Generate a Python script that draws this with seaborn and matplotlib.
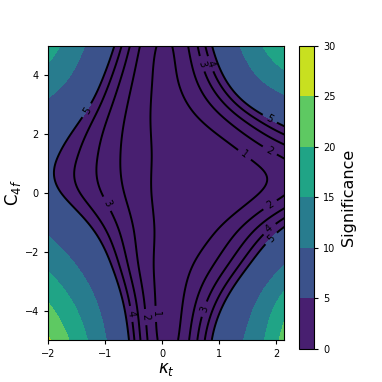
import numpy as np
import pandas as pd
import matplotlib
matplotlib.use("Agg")
import matplotlib.pyplot as plt
import seaborn as sns

# Contour readings from the reference: (kappa_t, C_4f) on each significance level
lvl5_kt = [-0.82, -1.05, -1.14, -1.32, -1.67, -1.78, -1.85, -1.84, -1.70, -1.55, -1.35, -1.14, -1.00, -0.88, -0.80, -0.73, -0.62, -0.59,
           0.90, 1.07, 1.36, 1.71, 1.89, 2.12, 2.15, 1.83, 1.48, 1.13, 0.82]
lvl5_c4 = [5.00, 4.05, 3.49, 2.81, 1.80, 1.41, 0.84, 0.00, -0.17, -0.45, -0.90, -1.47, -1.91, -2.48, -2.93, -3.38, -4.17, -4.96,
           5.00, 4.05, 3.26, 2.81, 2.54, 2.23, -1.13, -1.69, -2.48, -3.60, -4.96]
lvl4_kt = [-0.69, -0.94, -1.40, -1.46, -1.49, -0.82, -0.68, -0.48, 0.75, 0.84, 2.15, 1.89, 1.42, 1.01, 0.72]
lvl4_c4 = [5.00, 3.49, 1.80, 0.45, 0.00, -1.93, -2.93, -5.00, 5.00, 4.39, -0.73, -1.18, -2.36, -3.49, -5.00]
lvl3_kt = [-0.57, -0.79, -1.08, -1.08, -1.11, -0.94, -0.68, -0.57, -0.38, 0.61, 0.69, 2.15, 1.30, 0.72, 0.63]
lvl3_c4 = [5.00, 3.49, 1.80, 0.45, 0.00, -0.34, -1.93, -2.93, -5.00, 5.00, 4.39, -0.56, -2.14, -3.94, -5.00]
lvl2_kt = [-0.41, -0.56, -0.73, -0.70, -0.73, -0.44, -0.38, -0.26, 0.46, 1.85, 2.14, 2.15, 1.89, 1.13, 0.66, 0.52]
lvl2_c4 = [5.00, 3.49, 1.80, 0.45, 0.00, -1.93, -2.93, -5.00, 5.00, 1.40, 1.25, -0.17, -0.40, -1.58, -3.04, -5.00]
lvl1_kt = [-0.15, -0.16, -0.18, -0.15, -0.16, -0.12, -0.09, -0.06,
           0.17, 0.33, 0.66, 1.07, 1.47, 1.71, 1.83, 1.71, 1.33, 0.96, 0.66, 0.49, 0.37, 0.30]
lvl1_c4 = [5.00, 3.49, 1.80, 0.45, 0.00, -1.93, -2.93, -5.00,
           5.00, 3.46, 2.48, 1.80, 1.23, 0.89, 0.34, -0.05, -0.60, -1.30, -2.05, -3.00, -4.05, -4.96]
lvl10_kt = [-1.38, -1.55, -2.00, -2.00, -1.00, 1.33, 1.71, 2.14, 1.45, 2.14]
lvl10_c4 = [5.00, 4.06, 3.27, -1.41, -5.00, 5.00, 3.70, 3.35, -5.00, -2.49]
lvl15_kt = [-1.79, -2.00, -1.29, -2.00, 1.83, 2.14, 1.80, 2.14]
lvl15_c4 = [5.00, 4.40, -5.00, -2.70, 5.00, 4.26, -5.00, -3.37]
lvl20_kt = [-1.64, -2.00, 2.06, 2.14, 2.04]
lvl20_c4 = [-5.00, -3.70, -5.00, -4.20, 5.00]
lvl25_kt = [-1.96, -2.00]
lvl25_c4 = [-5.00, -4.85]
# estimated values inside the lowest region
inner_kt = [1.00, 0.50, 0.25, 0.25, 0.03, 0.13, 1.40, 0.00, 1.00]
inner_c4 = [0.00, 0.50, 2.50, -2.50, 5.00, -5.00, 0.50, 0.00, -0.60]
inner_sig = [0.0, 0.15, 0.6, 0.5, 0.9, 0.6, 0.4, 0.6, 0.4]

# contour label anchors
label_kt = [-1.32, 1.89, 1.88, 0.84, 1.86, -0.53, 0.69, -0.94, 0.72, 1.89, 1.89, -0.28, 1.42, -0.06]
label_c4 = [2.81, 2.54, -1.49, 4.39, -1.18, -4.11, 4.39, -0.34, -3.94, 1.46, -0.40, -4.22, 1.24, -4.11]

levels = [0, 5, 10, 15, 20, 25, 30]
line_levels = [1, 2, 3, 4, 5]
cbar_ticks = [0, 5, 10, 15, 20, 25, 30]

rows = []
for lev, kx, cy in [(5, lvl5_kt, lvl5_c4), (4, lvl4_kt, lvl4_c4), (3, lvl3_kt, lvl3_c4),
                    (2, lvl2_kt, lvl2_c4), (1, lvl1_kt, lvl1_c4), (10, lvl10_kt, lvl10_c4),
                    (15, lvl15_kt, lvl15_c4), (20, lvl20_kt, lvl20_c4), (25, lvl25_kt, lvl25_c4)]:
    rows += [(a, b, lev) for a, b in zip(kx, cy)]
rows += list(zip(inner_kt, inner_c4, inner_sig))
df = pd.DataFrame(rows, columns=["kt", "c4f", "sig"])

# smooth surface through the readings: penalised tensor B-splines
def bbase(x, lo, hi, nseg, deg=3):
    dx = (hi - lo) / nseg
    knots = lo + dx * np.arange(-deg, nseg + deg + 1)
    x = np.clip(np.asarray(x, float), lo, hi - 1e-9)[:, None]
    B = ((x >= knots[:-1]) & (x < knots[1:])).astype(float)
    for k in range(1, deg + 1):
        B = ((x - knots[:-k - 1]) / (knots[k:-1] - knots[:-k - 1]) * B[:, :-1]
             + (knots[k + 1:] - x) / (knots[k + 1:] - knots[1:-k]) * B[:, 1:])
    return B

xlo, xhi, ylo, yhi = -2.05, 2.2, -5.05, 5.05
nsx, nsy = 8, 8
Bx = bbase(df["kt"], xlo, xhi, nsx)
By = bbase(df["c4f"], ylo, yhi, nsy)
mx, my = Bx.shape[1], By.shape[1]
A = (Bx[:, :, None] * By[:, None, :]).reshape(len(df), -1)
w = np.where(df["sig"] <= 5, 4.0, 3.0)
Dx = np.diff(np.eye(mx), 2, axis=0)
Dy = np.diff(np.eye(my), 2, axis=0)
lam = 0.02
P = lam * (np.kron(Dx.T @ Dx, np.eye(my)) + np.kron(np.eye(mx), Dy.T @ Dy))
coef = np.linalg.solve(A.T @ (A * w[:, None]) + P, A.T @ (w * df["sig"].to_numpy()))
C = coef.reshape(mx, my)

xg = np.linspace(-2, 2.14, 300)
yg = np.linspace(-5, 5, 300)
X, Y = np.meshgrid(xg, yg)
Z = np.clip(bbase(yg, ylo, yhi, nsy) @ C.T @ bbase(xg, xlo, xhi, nsx).T, 0, None)

sns.set_style("ticks")
plt.rcParams["font.family"] = ["DejaVu Sans"]
plt.rcParams.update({"text.color": "black", "axes.labelcolor": "black",
                     "xtick.color": "black", "ytick.color": "black",
                     "axes.edgecolor": "black"})
fig = plt.figure(figsize=(3.82, 3.82), dpi=100)
ax = fig.add_axes([0.1257, 0.11, 0.6186, 0.7696])
cax = fig.add_axes([0.7835, 0.0864, 0.0385, 0.794])

cf = ax.contourf(X, Y, Z, levels=levels, cmap="viridis")
cl = ax.contour(X, Y, Z, levels=line_levels, colors="black", linewidths=1.4)
ax.clabel(cl, fmt="%d", fontsize=7, manual=list(zip(label_kt, label_c4)))

ax.set_xlim(-2, 2.14)
ax.set_ylim(-5, 5)
ax.set_xticks([-2, -1, 0, 1, 2])
ax.set_yticks([-4, -2, 0, 2, 4])
ax.tick_params(labelsize=7, length=3)
ax.set_xlabel(r"$\kappa_t$", fontsize=12, labelpad=1)
ax.set_ylabel(r"C$_{4f}$", fontsize=12, labelpad=1)

cb = fig.colorbar(cf, cax=cax, ticks=cbar_ticks)
cb.ax.tick_params(labelsize=7, length=3)
cb.set_label("Significance", fontsize=11.5)

fig.savefig("out.png", dpi=100)
